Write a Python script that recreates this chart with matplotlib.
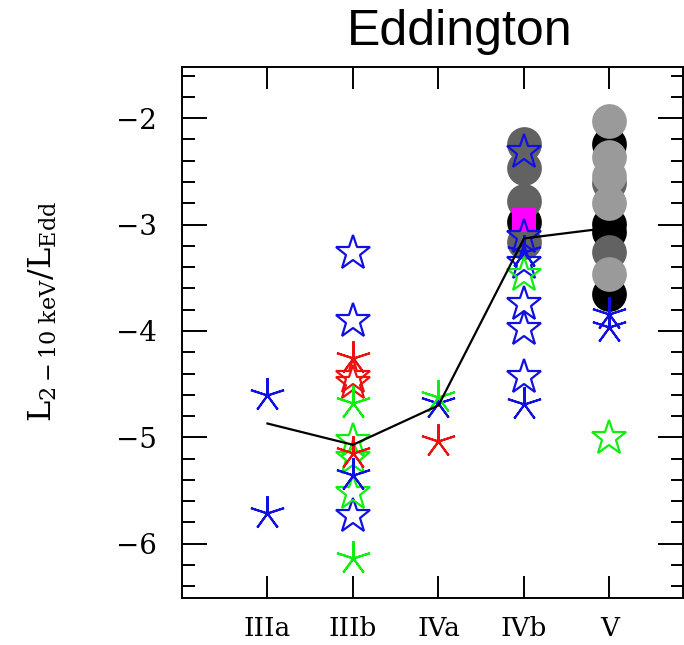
import matplotlib
matplotlib.use("Agg")
import matplotlib.pyplot as plt
from matplotlib.ticker import MultipleLocator

plt.rcParams["mathtext.fontset"] = "dejavuserif"

# categories and binned means
categories = ["IIIa", "IIIb", "IVa", "IVb", "V"]
cat_x = [1, 2, 3, 4, 5]
mean_y = [-4.87, -5.07, -4.70, -3.13, -3.03]

# big filled circles
black_x = [4, 5, 5, 5, 5]
black_y = [-2.98, -2.24, -2.99, -3.07, -3.65]
dgrey_x = [4, 4, 4, 4, 5, 5]
dgrey_y = [-2.24, -2.47, -2.78, -3.16, -2.61, -3.26]
lgrey_x = [5, 5, 5, 5, 5]
lgrey_y = [-2.03, -2.36, -2.54, -2.80, -3.46]
sq_x = [4]
sq_y = [-2.96]

# open stars
bstar_x = [2, 2, 2, 4, 4, 4, 4, 4, 4]
bstar_y = [-3.27, -3.91, -5.74, -2.32, -3.12, -3.36, -3.75, -3.98, -4.43]
rstar_x = [2, 2]
rstar_y = [-4.43, -4.49]
gstar_x = [2, 2, 2, 4, 5]
gstar_y = [-5.03, -5.19, -5.52, -3.47, -5.01]

# asterisks
bast_x = [1, 1, 2, 3, 4, 4, 5, 5]
bast_y = [-4.60, -5.71, -5.35, -4.68, -3.26, -4.69, -3.84, -3.96]
rast_x = [2, 2, 3]
rast_y = [-4.25, -5.15, -5.03]
gast_x = [2, 2, 3]
gast_y = [-4.68, -6.13, -4.62]

fig = plt.figure(figsize=(6.84, 6.45), dpi=100)
ax = fig.add_axes([0.266, 0.0729, 0.7325, 0.823])

circ = dict(marker="o", linestyle="none", markersize=25, markeredgewidth=0)
ax.plot(black_x, black_y, color="black", **circ)
ax.plot(dgrey_x, dgrey_y, color="#626262", **circ)
ax.plot(lgrey_x, lgrey_y, color="#9a9a9a", **circ)
ax.plot(sq_x, sq_y, marker="s", linestyle="none", markersize=17,
        color="#ff00ff", markeredgewidth=0)

star = dict(marker="*", linestyle="none", markersize=26,
            markerfacecolor="none", markeredgewidth=1.6)
ast = dict(marker=(5, 2, 0), linestyle="none", markersize=25,
           markeredgewidth=1.5)
ax.plot(bstar_x, bstar_y, markeredgecolor="#1010e0", **star)
ax.plot(rstar_x, rstar_y, markeredgecolor="#ee1010", **star)
ax.plot(gstar_x, gstar_y, markeredgecolor="#10ee10", **star)
ax.plot(bast_x, bast_y, color="#1010e0", **ast)
ax.plot(rast_x, rast_y, color="#ee1010", **ast)
ax.plot(gast_x, gast_y, color="#10ee10", **ast)

# mean line
ax.plot(cat_x, mean_y, color="black", linewidth=1.6, zorder=5)

ax.set_xlim(0, 5.86)
ax.set_ylim(-6.51, -1.52)
ax.set_xticks(cat_x)
ax.set_xticklabels(categories, family="DejaVu Serif", fontsize=19)
ax.yaxis.set_major_locator(MultipleLocator(1))
ax.yaxis.set_minor_locator(MultipleLocator(0.2))
ax.yaxis.set_major_formatter(plt.FuncFormatter(
    lambda v, p: "\u2212%d" % abs(round(v)) if v < 0 else "%d" % round(v)))
for lab in ax.get_yticklabels():
    lab.set_family("DejaVu Serif")

ax.tick_params(axis="x", which="major", direction="in", top=True, bottom=True,
               length=16, width=1.4, pad=13)
ax.tick_params(axis="y", which="major", direction="in", left=True, right=True,
               length=18, width=1.4, pad=18, labelsize=20)
ax.tick_params(axis="y", which="minor", direction="in", left=True, right=True,
               length=9, width=1.4)
for s in ax.spines.values():
    s.set_linewidth(1.4)

ax.set_ylabel(r"$\mathrm{L_{2-10\ keV}/L_{Edd}}$", fontsize=23)
ax.yaxis.set_label_coords(-0.245, 0.54)

fig.text(460 / 684, 1 - 45 / 645, "Eddington", ha="center", va="baseline",
         fontsize=36, family="Liberation Sans")

fig.savefig("out.png", dpi=100)
